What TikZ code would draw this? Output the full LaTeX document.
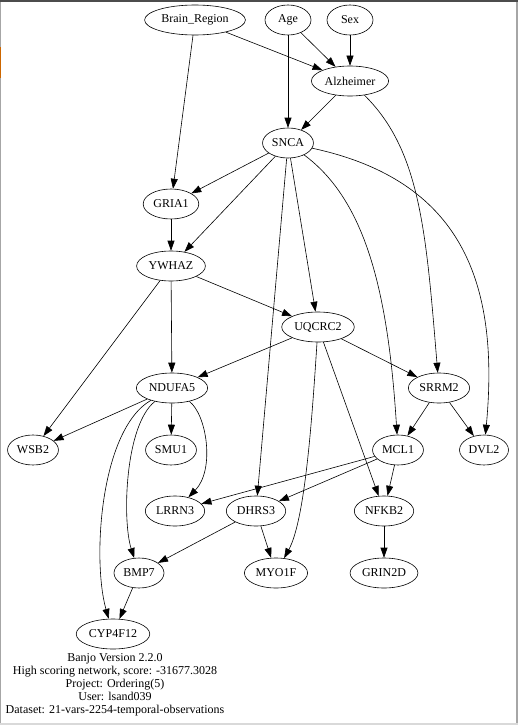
\documentclass[tikz,border=0pt]{standalone}
\usepackage{fontspec}
\setmainfont{Liberation Serif}
\usetikzlibrary{arrows.meta,shapes.geometric}

\tikzset{
  var/.style={draw,ellipse,line width=0.6pt,minimum width=46pt,minimum height=30pt,
    inner xsep=2pt,inner ysep=0pt,font=\fontsize{12}{13}\selectfont},
  edge/.style={line width=0.6pt,-{Triangle[length=10pt,width=7pt]}}
}

\begin{document}
\begin{tikzpicture}[x=1pt,y=-1pt]
  \useasboundingbox (0,0) rectangle (518,725);
  % marco
  \fill[black!70] (0,0) rectangle (518,2);
  \fill[black!35] (0,2) rectangle (1,725);
  \fill[black!35] (516,2) rectangle (518,725);
  \fill[black!15] (0,723) rectangle (518,725);
  \fill[orange!80!black] (0,47) rectangle (1,78);

  \node[var] (brain) at (195,20) {Brain\_Region};
  \node[var] (age)   at (288,20) {Age};
  \node[var] (sex)   at (350,20) {Sex};
  \node[var] (alz)   at (350,81) {Alzheimer};
  \node[var] (snca)  at (288,143) {SNCA};
  \node[var] (gria)  at (171,204) {GRIA1};
  \node[var] (ywhaz) at (171,266) {YWHAZ};
  \node[var] (uqcrc) at (318,327) {UQCRC2};
  \node[var] (ndufa) at (172,388) {NDUFA5};
  \node[var] (srrm)  at (439,388) {SRRM2};
  \node[var] (wsb)   at (33,450) {WSB2};
  \node[var] (smu)   at (171,450) {SMU1};
  \node[var] (mcl)   at (398,450) {MCL1};
  \node[var] (dvl)   at (484,450) {DVL2};
  \node[var] (lrrn)  at (175,511) {LRRN3};
  \node[var] (dhrs)  at (256,511) {DHRS3};
  \node[var] (nfkb)  at (384,511) {NFKB2};
  \node[var] (bmp)   at (139,573) {BMP7};
  \node[var] (myo)   at (276,573) {MYO1F};
  \node[var] (grin)  at (384,573) {GRIN2D};
  \node[var] (cyp)   at (113,634) {CYP4F12};

  \foreach \a/\b in {brain/alz,brain/gria,age/alz,age/snca,sex/alz,alz/snca,
      snca/gria,snca/ywhaz,snca/dhrs,snca/uqcrc,gria/ywhaz,ywhaz/uqcrc,
      ywhaz/ndufa,ywhaz/wsb,uqcrc/ndufa,uqcrc/srrm,uqcrc/nfkb,ndufa/wsb,
      ndufa/smu,srrm/mcl,srrm/dvl,mcl/lrrn,mcl/dhrs,mcl/nfkb,dhrs/bmp,
      dhrs/myo,nfkb/grin,bmp/cyp} {
    \draw[edge] (\a) -- (\b);
  }

  % aristas curvas
  \draw[edge] (alz) .. controls (420,150) and (426,230) .. (srrm);
  \draw[edge] (snca) .. controls (365,200) and (388,290) .. (mcl);
  \draw[edge] (snca) .. controls (460,180) and (500,280) .. (dvl);
  \draw[edge] (uqcrc) .. controls (312,420) and (305,520) .. (myo);
  \draw[edge] (ndufa) .. controls (207,415) and (215,470) .. (lrrn);
  \draw[edge] (ndufa) .. controls (125,425) and (122,520) .. (bmp);
  \draw[edge] (ndufa) .. controls (100,430) and (92,560) .. (cyp);

  \node[align=center,font=\fontsize{12}{13}\selectfont] (info) at (115,685)
    {Banjo Version 2.2.0\\High scoring network, score: -31677.3028\\
     Project: Ordering(5)\\User: lsand039\\
     Dataset: 21-vars-2254-temporal-observations};
\end{tikzpicture}
\end{document}
